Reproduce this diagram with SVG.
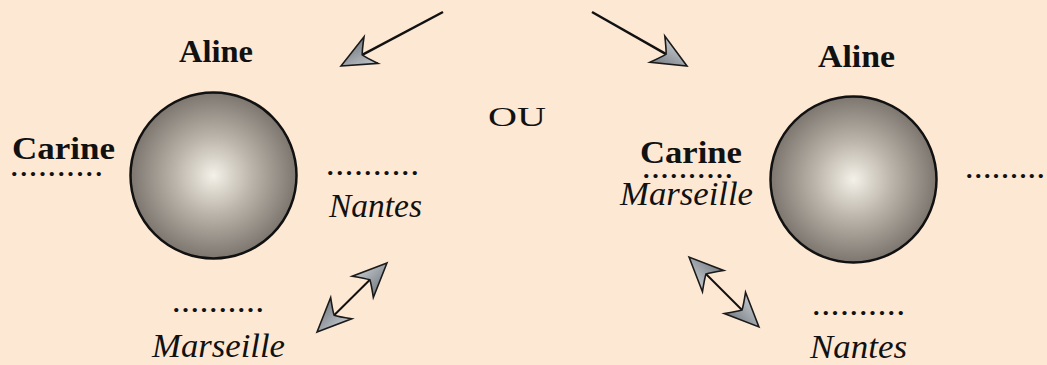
<svg xmlns="http://www.w3.org/2000/svg" width="1047" height="365" viewBox="0 0 1047 365">
  <style>
    text { font-family: 'Liberation Serif', Times New Roman, Times, serif; fill: #111; }
    .name { font-weight: bold; font-size: 32px; }
    .place { font-style: italic; font-size: 34px; }
    .dots { font-size: 26px; font-weight: bold; }
    .ou { font-size: 28px; }
    .sphere { fill: url(#sphereGrad); stroke: #111; stroke-width: 2.5; }
    .conn { fill: none; stroke: #111; }
  </style>
  <defs>
    <radialGradient id="sphereGrad" cx="50%" cy="50%" r="50%">
      <stop offset="0" stop-color="#f4f1e8"/>
      <stop offset="0.45" stop-color="#bdb6ac"/>
      <stop offset="1" stop-color="#7c766f"/>
    </radialGradient>
    <linearGradient id="headGrad" x1="0" y1="0" x2="0" y2="1">
      <stop offset="0" stop-color="#c3c8cc"/>
      <stop offset="1" stop-color="#777e84"/>
    </linearGradient>
    <marker id="head" viewBox="-14 -20 44 40" refX="0" refY="0" markerWidth="44" markerHeight="40" markerUnits="userSpaceOnUse" orient="auto-start-reverse" overflow="visible">
      <path d="M24,0 L-10,-15 Q-2,-4 0,0 Q-2,4 -10,15 Z" fill="url(#headGrad)" stroke="#1a1a1a" stroke-width="1.6" stroke-linejoin="miter"/>
    </marker>
  </defs>

  <rect x="0" y="0" width="1047" height="365" fill="#fde8d4"/>

  <g id="connectors">
    <line class="conn" x1="443" y1="12" x2="362.2" y2="54.8" stroke-width="2.5" marker-end="url(#head)"/>
    <line class="conn" x1="592" y1="12" x2="666.1" y2="54.1" stroke-width="2.5" marker-end="url(#head)"/>
    <line class="conn" x1="369.9" y1="279.8" x2="334.1" y2="315.2" stroke-width="2" marker-start="url(#head)" marker-end="url(#head)"/>
    <line class="conn" x1="706" y1="274" x2="742" y2="310" stroke-width="2" marker-start="url(#head)" marker-end="url(#head)"/>
  </g>

  <g id="ou">
    <text class="ou" x="488" y="126" textLength="58" lengthAdjust="spacingAndGlyphs">OU</text>
  </g>

  <g id="left-config">
    <circle class="sphere" cx="213.5" cy="175.5" r="83"/>
    <text class="name" x="179" y="62" textLength="74" lengthAdjust="spacingAndGlyphs">Aline</text>
    <text class="name" x="12" y="158.5" textLength="103" lengthAdjust="spacingAndGlyphs">Carine</text>
    <text class="dots" x="11" y="176" textLength="91" lengthAdjust="spacing">..........</text>
    <text class="dots" x="327" y="175" textLength="91" lengthAdjust="spacing">..........</text>
    <text class="place" x="329" y="217" textLength="93" lengthAdjust="spacingAndGlyphs">Nantes</text>
    <text class="dots" x="173" y="312" textLength="90" lengthAdjust="spacing">..........</text>
    <text class="place" x="152" y="357" textLength="133" lengthAdjust="spacingAndGlyphs">Marseille</text>
  </g>

  <g id="right-config">
    <circle class="sphere" cx="853.5" cy="179.5" r="83"/>
    <text class="name" x="818" y="66.5" textLength="77" lengthAdjust="spacingAndGlyphs">Aline</text>
    <text class="name" x="640" y="163" textLength="102" lengthAdjust="spacingAndGlyphs">Carine</text>
    <text class="dots" x="643" y="178" textLength="89" lengthAdjust="spacing">..........</text>
    <text class="place" x="620" y="205" textLength="133" lengthAdjust="spacingAndGlyphs">Marseille</text>
    <text class="dots" x="966" y="178" textLength="78" lengthAdjust="spacing">.........</text>
    <text class="dots" x="813" y="315" textLength="91" lengthAdjust="spacing">..........</text>
    <text class="place" x="810" y="358" textLength="97" lengthAdjust="spacingAndGlyphs">Nantes</text>
  </g>
</svg>
